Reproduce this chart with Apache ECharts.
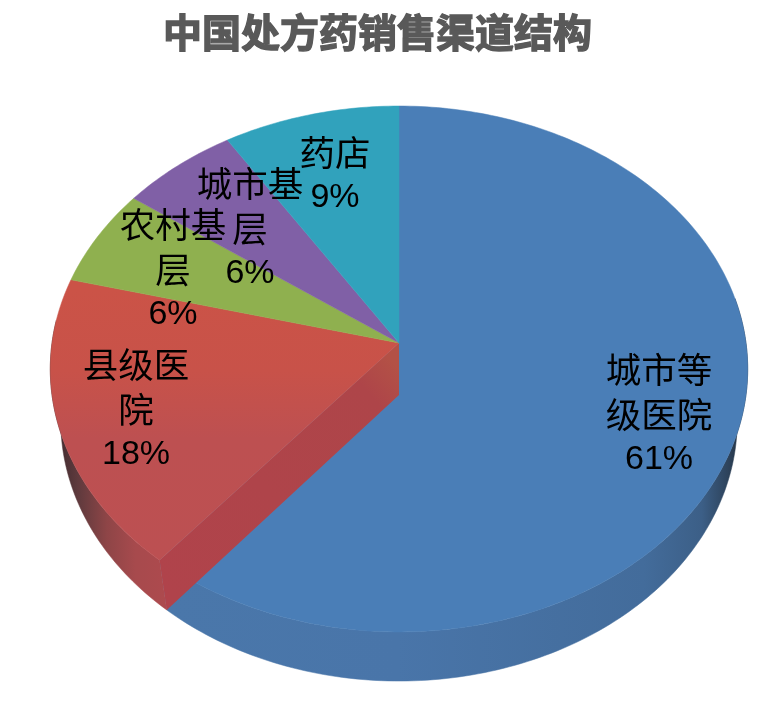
<!DOCTYPE html>
<html>
<head>
<meta charset="utf-8">
<style>html,body{margin:0;padding:0;background:#fff}#c{width:770px;height:702px}</style>
<script src="https://cdn.jsdelivr.net/npm/echarts@6/dist/echarts.min.js"></script>
</head>
<body>
<div id="c"></div>
<script>
const titleText = '中国处方药销售渠道结构';
const categories = ['城市等级医院', '县级医院', '农村基层', '城市基层', '药店'];
const values = [61, 18, 6, 6, 9];
const colors = ['#4a7eb7', '#c4524e', '#8fb04f', '#8060a6', '#31a2bc'];
const labelAnchors = [[659, 415], [136, 410], [173, 270], [250, 229], [335, 175]];

// Perspective disc geometry of the drawing
const CX = 399, CY = 343, RX = 347, RY = 260.4, K = 0.0988;
const WALL_DY = 52, WALL_SX = 0.97, WALL_SY = 0.99;
const DEG = Math.PI / 180;
const total = values.reduce((a, b) => a + b, 0);
const starts = [];
values.reduce((acc, v, i) => { starts[i] = acc; return acc + v; }, 0);

function topRim(t) {
  const X = Math.sin(t), Y = -Math.cos(t), w = 1 - K * Y;
  return [CX + RX * X / w, CY + RY * Y / w];
}
function bottomRim(t) {
  const p = topRim(t);
  return [CX + (p[0] - CX) * WALL_SX, CY + WALL_DY + (p[1] - CY) * WALL_SY];
}
function arc(fn, a, b) {
  const pts = [], n = Math.max(2, Math.ceil(Math.abs(b - a) / (1 * DEG)));
  for (let i = 0; i <= n; i++) pts.push(fn(a + (b - a) * i / n));
  return pts;
}
const G = (x0, y0, x1, y1, stops) => new echarts.graphic.LinearGradient(
  x0, y0, x1, y1, stops.map(s => ({ offset: s[0], color: s[1] })), true);

const wallFills = {
  0: () => G(167, 0, 742, 0, [[0, '#4a77aa'], [0.4, '#4975a9'], [0.83, '#436c9b'], [0.93, '#3c5f87'], [0.98, '#2c4057'], [1, '#22303f']]),
  1: () => G(55, 0, 170, 0, [[0, '#3d2a2e'], [0.2, '#5f3a3d'], [0.45, '#8e4547'], [0.7, '#a74a4d'], [1, '#ae4a4e']])
};
const faceFills = {
  1: () => G(0, 290, 0, 560, [[0, '#cb5347'], [0.3, '#c85249'], [0.55, '#bd5051'], [1, '#bc5052']])
};

function renderSlice(params, api) {
  const i = params.dataIndex;
  const t0 = starts[i] / total * 360 * DEG;
  const t1 = (starts[i] + api.value(0)) / total * 360 * DEG;
  const children = [];
  const tA = Math.max(t0, 80 * DEG), tB = Math.min(t1, 275 * DEG);
  if (tA < tB && wallFills[i]) {
    const fill = wallFills[i]();
    children.push({ type: 'polygon',
      shape: { points: arc(topRim, tA, tB).concat(arc(bottomRim, tB, tA)) },
      style: { fill: fill, stroke: fill, lineWidth: 0.5 } });
  }
  if (t0 > 180 * DEG && t0 < 270 * DEG) {
    const a = topRim(t0), b = bottomRim(t0);
    const fill = G(CX, CY + 26, a[0], a[1] + 25, [[0, '#b35146'], [0.12, '#ae4549'], [1, '#b0434b']]);
    children.push({ type: 'polygon',
      shape: { points: [[CX, CY], a, b, [CX, CY + WALL_DY]] },
      style: { fill: fill } });
  }
  const fill = faceFills[i] ? faceFills[i]() : colors[i];
  children.push({ type: 'polygon',
    shape: { points: [[CX, CY]].concat(arc(topRim, t0, t1)) },
    style: { fill: fill, stroke: fill, lineWidth: 0.5 } });
  return { type: 'group', children: children };
}

function renderLabel(params, api) {
  const i = params.dataIndex;
  const lines = categories[i].match(/.{1,3}/g).map(s => '{c|' + s + '}');
  lines.push('{n|' + api.value(0) + '%}');
  return { type: 'text', x: labelAnchors[i][0], y: labelAnchors[i][1],
    style: { text: lines.join('\n'), fill: '#000', align: 'center', verticalAlign: 'middle',
      rich: {
        c: { fontFamily: '"Noto Sans CJK SC"', fontSize: 35.5, lineHeight: 45, fill: '#000' },
        n: { fontFamily: '"Liberation Sans"', fontSize: 34, lineHeight: 45, fill: '#000' }
      } } };
}

const chart = echarts.init(document.getElementById('c'), null, { renderer: 'canvas' });
const rows = values.map((v, i) => ({ value: v, name: categories[i] }));
chart.setOption({
  animation: false,
  backgroundColor: '#fff',
  title: { text: titleText, left: 158, top: 8,
    textStyle: { fontFamily: '"Noto Sans CJK SC"', fontWeight: 'bold', fontSize: 39, color: '#595959',
      textBorderColor: '#595959', textBorderWidth: 1.4 } },
  series: [
    { type: 'custom', coordinateSystem: 'none', renderItem: renderSlice, data: rows, silent: true },
    { type: 'custom', coordinateSystem: 'none', renderItem: renderLabel, data: rows, silent: true, z: 5 }
  ]
});
</script>
</body>
</html>
